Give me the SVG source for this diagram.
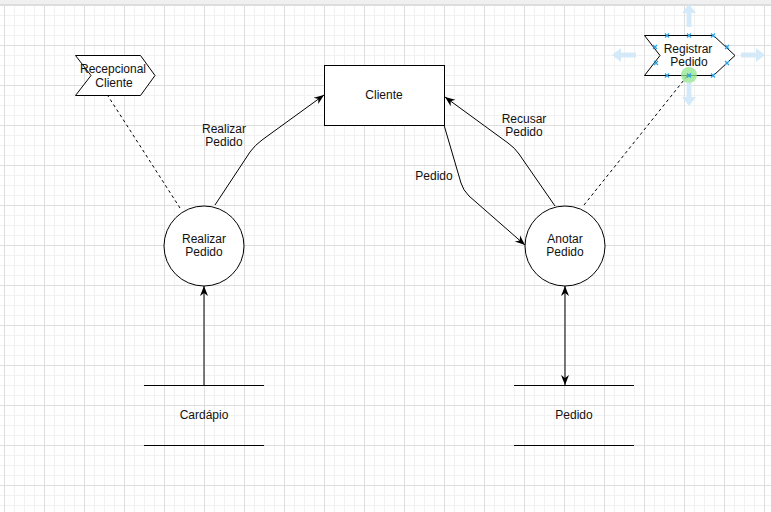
<svg xmlns="http://www.w3.org/2000/svg" width="771" height="512" viewBox="0 0 771 512">
  <defs>
    <pattern id="grid" x="4" y="5" width="40" height="40" patternUnits="userSpaceOnUse">
      <path d="M10.5,0V40M20.5,0V40M30.5,0V40M0,10.5H40M0,20.5H40M0,30.5H40" stroke="#f1f1f1" stroke-width="1" fill="none"/>
      <path d="M0.5,0V40M0,0.5H40" stroke="#dedede" stroke-width="1" fill="none"/>
    </pattern>
    <marker id="arr" viewBox="-11 -5 12 10" refX="0" refY="0" markerWidth="12" markerHeight="10" markerUnits="userSpaceOnUse" orient="auto-start-reverse">
      <path d="M0,0 L-10,-4 L-7,0 L-10,4 Z" fill="#000"/>
    </marker>
    <g id="hx">
      <path d="M-2,-2L2,2M-2,2L2,-2" stroke="#29a3e8" stroke-width="1.2"/>
    </g>
  </defs>
  <style>
    text { font-family: "Liberation Sans", Arial, Helvetica, sans-serif; font-size: 12px; fill: #111; text-anchor: middle; }
    .ln { fill: none; stroke: #000; stroke-width: 1; }
    .dash { fill: none; stroke: #000; stroke-width: 1; stroke-dasharray: 3 3; }
    .shape { fill: #fff; stroke: #000; stroke-width: 1; }
    .hint { fill: #cfe8f8; opacity: 0.9; }
  </style>

  <rect x="0" y="0" width="771" height="512" fill="#fff"/>
  <rect x="0" y="0" width="771" height="512" fill="url(#grid)"/>
  <rect x="0" y="0" width="771" height="4" fill="#f0f0f0"/>
  <line x1="0" y1="4.5" x2="771" y2="4.5" stroke="#dcdcdc"/>

  <g id="connectors">
    <path class="ln" d="M215,205 L250,152 Q255,145 262,140 L324,95" marker-end="url(#arr)"/>
    <path class="ln" d="M444,125 L461,183 Q463,190 469,196 L525,245" marker-end="url(#arr)"/>
    <path class="ln" d="M555,206 L519,154 Q515,148 508,143 L445,97" marker-end="url(#arr)"/>
    <path class="ln" d="M204,385 L204,286" marker-end="url(#arr)"/>
    <path class="ln" d="M565,286 L565,385" marker-start="url(#arr)" marker-end="url(#arr)"/>
    <path class="dash" d="M180,208 L108,96"/>
    <path class="dash" d="M584,205 L688,75"/>
    <text x="224" y="133">Realizar</text>
    <text x="224" y="146">Pedido</text>
    <text x="434" y="180">Pedido</text>
    <text x="524" y="123">Recusar</text>
    <text x="524" y="136">Pedido</text>
  </g>

  <g id="cliente">
    <rect class="shape" x="324.5" y="65.5" width="120" height="60"/>
    <text x="384" y="99">Cliente</text>
  </g>

  <g id="realizar-pedido">
    <circle class="shape" cx="204" cy="246" r="40"/>
    <text x="204" y="243">Realizar</text>
    <text x="204" y="256">Pedido</text>
  </g>

  <g id="anotar-pedido">
    <circle class="shape" cx="565" cy="246" r="40"/>
    <text x="565" y="243">Anotar</text>
    <text x="565" y="256">Pedido</text>
  </g>

  <g id="cardapio">
    <line class="ln" x1="144" y1="385.5" x2="264" y2="385.5"/>
    <line class="ln" x1="144" y1="445.5" x2="264" y2="445.5"/>
    <text x="204" y="419">Cardápio</text>
  </g>

  <g id="pedido-store">
    <line class="ln" x1="514" y1="385.5" x2="634" y2="385.5"/>
    <line class="ln" x1="514" y1="445.5" x2="634" y2="445.5"/>
    <text x="574" y="419">Pedido</text>
  </g>

  <g id="recepcionar-cliente">
    <path class="shape" d="M75.5,55.5 L140.5,55.5 L155,75.5 L140.5,95.5 L75.5,95.5 L91,75.5 Z"/>
    <text x="113" y="73">Recepcional</text>
    <text x="114" y="87">Cliente</text>
  </g>

  <g id="registrar-pedido">
    <path class="hint" d="M689,4 L696,13 L691.5,13 L691.5,27 L686.5,27 L686.5,13 L682,13 Z"/>
    <path class="hint" d="M689,106 L696,97 L691.5,97 L691.5,83 L686.5,83 L686.5,97 L682,97 Z"/>
    <path class="hint" d="M612,55 L621,48 L621,52.5 L636,52.5 L636,57.5 L621,57.5 L621,62 Z"/>
    <path class="hint" d="M765,55 L756,48 L756,52.5 L741,52.5 L741,57.5 L756,57.5 L756,62 Z"/>
    <path class="shape" d="M644.5,35.5 L713.5,35.5 L735,55.5 L713.5,75.5 L644.5,75.5 L660,55.5 Z"/>
    <text x="688" y="53">Registrar</text>
    <text x="689" y="66">Pedido</text>
    <use href="#hx" x="667" y="35.5"/>
    <use href="#hx" x="689" y="35.5"/>
    <use href="#hx" x="713" y="35.5"/>
    <use href="#hx" x="667" y="75.5"/>
    <use href="#hx" x="713" y="75.5"/>
    <use href="#hx" x="655" y="47"/>
    <use href="#hx" x="656" y="63"/>
    <use href="#hx" x="727" y="47"/>
    <use href="#hx" x="727" y="63"/>
    <circle cx="689" cy="75" r="8" fill="#8fe58f" opacity="0.75"/>
    <use href="#hx" x="689" y="75.5"/>
  </g>
</svg>
